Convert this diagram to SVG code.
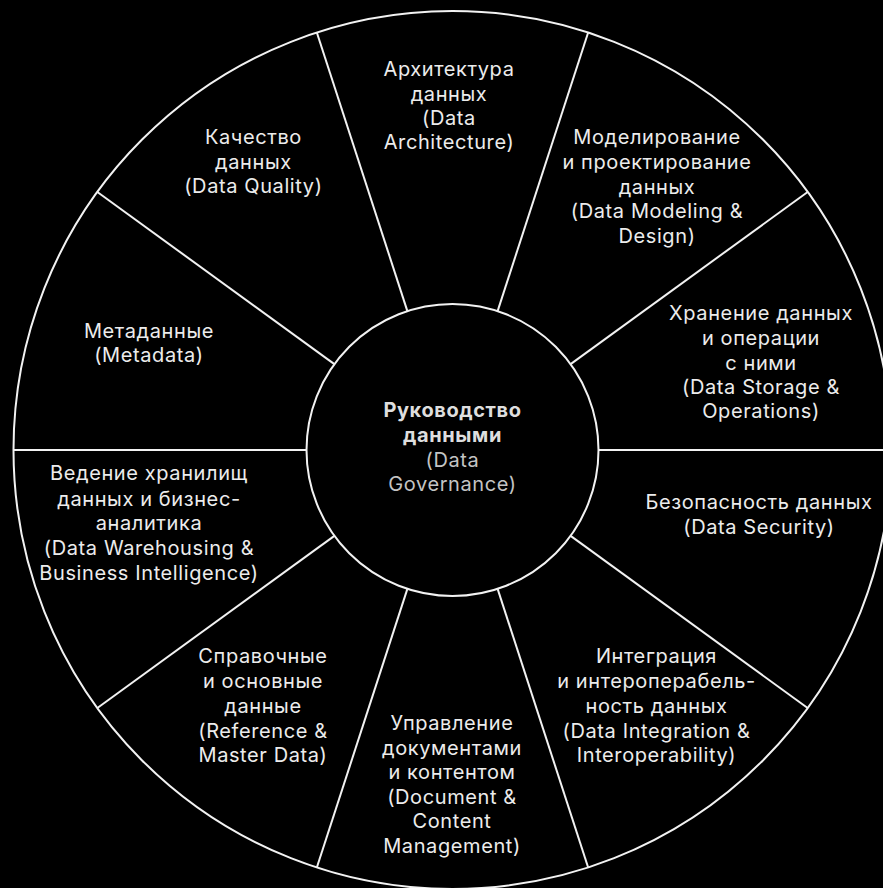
<svg xmlns="http://www.w3.org/2000/svg" width="883" height="888" viewBox="0 0 883 888">
<style>
text{font-family:Inter,"Noto Sans","DejaVu Sans",sans-serif;font-size:20px;letter-spacing:0.6px;fill:#ececec;text-anchor:middle}
.ring{fill:none;stroke:#f2f2f2;stroke-width:2}
.spoke{stroke:#f2f2f2;stroke-width:2}
.hub{fill:#000;stroke:#f2f2f2;stroke-width:2}
.title{font-weight:bold;fill:#dedede}
.sub{fill:#c4c4c4}
</style>
<rect width="883" height="888" fill="#000"/>
<circle class="ring" cx="452.5" cy="450" r="439"/>
<g id="spokes">
<line class="spoke" x1="598.5" y1="450" x2="891.5" y2="450"/>
<line class="spoke" x1="570.62" y1="364.18" x2="807.66" y2="191.96"/>
<line class="spoke" x1="497.62" y1="311.15" x2="588.16" y2="32.49"/>
<line class="spoke" x1="407.38" y1="311.15" x2="316.84" y2="32.49"/>
<line class="spoke" x1="334.38" y1="364.18" x2="97.34" y2="191.96"/>
<line class="spoke" x1="306.5" y1="450" x2="13.5" y2="450"/>
<line class="spoke" x1="334.38" y1="535.82" x2="97.34" y2="708.04"/>
<line class="spoke" x1="407.38" y1="588.85" x2="316.84" y2="867.51"/>
<line class="spoke" x1="497.62" y1="588.85" x2="588.16" y2="867.51"/>
<line class="spoke" x1="570.62" y1="535.82" x2="807.66" y2="708.04"/>
</g>
<g id="governance">
<circle class="hub" cx="452.5" cy="450" r="146"/>
<text class="title" x="452.5" y="417">Руководство</text>
<text class="title" x="452.5" y="442">данными</text>
<text class="sub" x="452.5" y="467">(Data</text>
<text class="sub" x="452.5" y="491">Governance)</text>
</g>
<g id="architecture">
<text x="449" y="76">Архитектура</text>
<text x="449" y="100.5">данных</text>
<text x="449" y="125">(Data</text>
<text x="449" y="149">Architecture)</text>
</g>
<g id="modeling">
<text x="657" y="143.6">Моделирование</text>
<text x="657" y="168.6">и проектирование</text>
<text x="657" y="193.5">данных</text>
<text x="657" y="218.2">(Data Modeling &amp;</text>
<text x="657" y="242.7">Design)</text>
</g>
<g id="storage">
<text x="761" y="320.3">Хранение данных</text>
<text x="761" y="345.2">и операции</text>
<text x="761" y="369.6">с ними</text>
<text x="761" y="393.5">(Data Storage &amp;</text>
<text x="761" y="417.5">Operations)</text>
</g>
<g id="security">
<text x="759" y="509">Безопасность данных</text>
<text x="759" y="533.8">(Data Security)</text>
</g>
<g id="integration">
<text x="656.5" y="663.3">Интеграция</text>
<text x="656.5" y="688">и интероперабель-</text>
<text x="656.5" y="712.8">ность данных</text>
<text x="656.5" y="737.6">(Data Integration &amp;</text>
<text x="656.5" y="761.8">Interoperability)</text>
</g>
<g id="document">
<text x="452" y="729.7">Управление</text>
<text x="452" y="754.5">документами</text>
<text x="452" y="779.3">и контентом</text>
<text x="452" y="804">(Document &amp;</text>
<text x="452" y="828.3">Content</text>
<text x="452" y="853">Management)</text>
</g>
<g id="reference">
<text x="263" y="663.3">Справочные</text>
<text x="263" y="688">и основные</text>
<text x="263" y="712.8">данные</text>
<text x="263" y="737.6">(Reference &amp;</text>
<text x="263" y="761.8">Master Data)</text>
</g>
<g id="warehousing">
<text x="149" y="480.3">Ведение хранилищ</text>
<text x="149" y="505.6">данных и бизнес-</text>
<text x="149" y="530.4">аналитика</text>
<text x="149" y="555.2">(Data Warehousing &amp;</text>
<text x="149" y="580">Business Intelligence)</text>
</g>
<g id="metadata">
<text x="149" y="337.5">Метаданные</text>
<text x="149" y="361.5">(Metadata)</text>
</g>
<g id="quality">
<text x="253.4" y="144">Качество</text>
<text x="253.4" y="169">данных</text>
<text x="253.4" y="193">(Data Quality)</text>
</g>
</svg>
